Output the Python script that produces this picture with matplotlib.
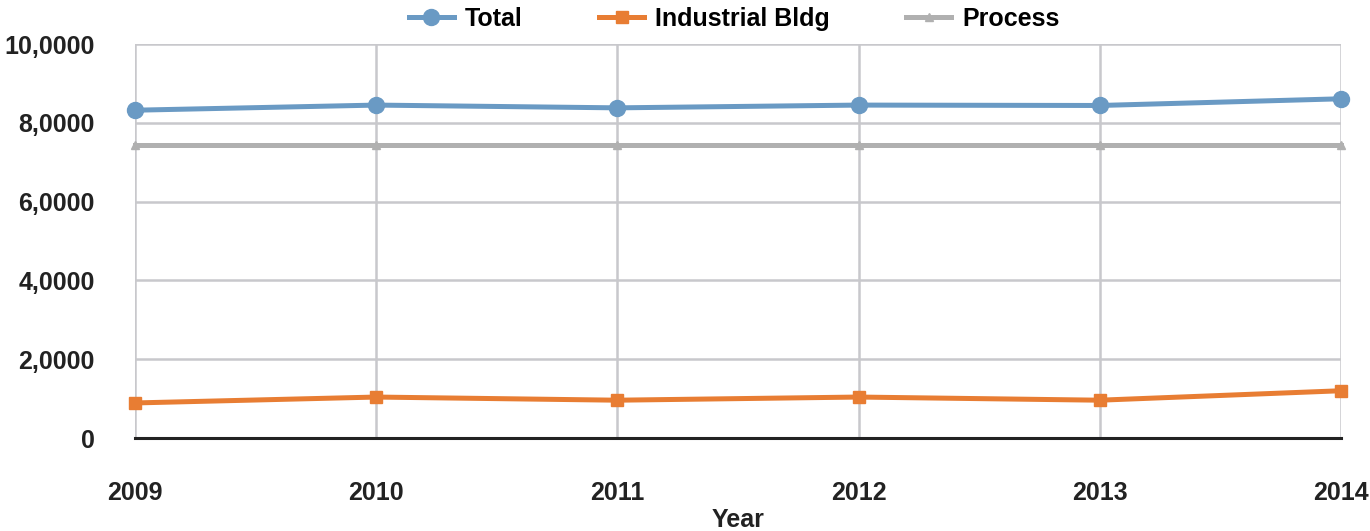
import matplotlib.pyplot as plt

plt.rcParams['font.family'] = ['Liberation Sans', 'DejaVu Sans']
plt.rcParams['font.weight'] = 'bold'

years = [2009, 2010, 2011, 2012, 2013, 2014]
total = [83200, 84500, 83800, 84500, 84400, 86100]
industrial = [8900, 10400, 9600, 10400, 9600, 12000]
process = [74400, 74400, 74400, 74400, 74400, 74400]
y_ticks = [0, 20000, 40000, 60000, 80000, 100000]
y_labels = ['0', '2,0000', '4,0000', '6,0000', '8,0000', '10,0000']

fig = plt.figure(figsize=(13.7, 5.31), dpi=100)
ax = fig.add_axes([0.0985, 0.1751, 0.8803, 0.742])

ax.plot(years, total, color='#6a9ac4', lw=3.6, marker='o', ms=11.5,
        label='Total', zorder=4, clip_on=False)
ax.plot(years, industrial, color='#e87d33', lw=3.6, marker='s', ms=9,
        label='Industrial Bldg', zorder=4, clip_on=False)
ax.plot(years, process, color='#b0b0b0', lw=3.6, marker='^', ms=6,
        label='Process', zorder=3, clip_on=False)

ax.set_xlim(2009, 2014)
ax.set_ylim(0, 100000)
ax.set_xticks(years)
ax.set_yticks(y_ticks)
ax.set_yticklabels(y_labels)
ax.tick_params(axis='both', length=0, labelsize=18, colors='#222222')
ax.tick_params(axis='x', pad=31)
ax.tick_params(axis='y', pad=29)

ax.grid(True, color='#c8c8cc', lw=1.8)
ax.set_axisbelow(True)
for s in ['left', 'right', 'top']:
    ax.spines[s].set_visible(False)
ax.spines['bottom'].set_color('#222222')
ax.spines['bottom'].set_linewidth(2.2)
ax.spines['bottom'].set_zorder(5)

ax.set_xlabel('Year', fontsize=18, fontweight='bold', color='#222222', labelpad=2)

fig.legend(loc='upper center', bbox_to_anchor=(0.536, 1.03), ncol=3,
           frameon=False, fontsize=18, handlelength=1.8, columnspacing=3.05,
           handletextpad=0.45)

fig.savefig('out.png', dpi=100)
